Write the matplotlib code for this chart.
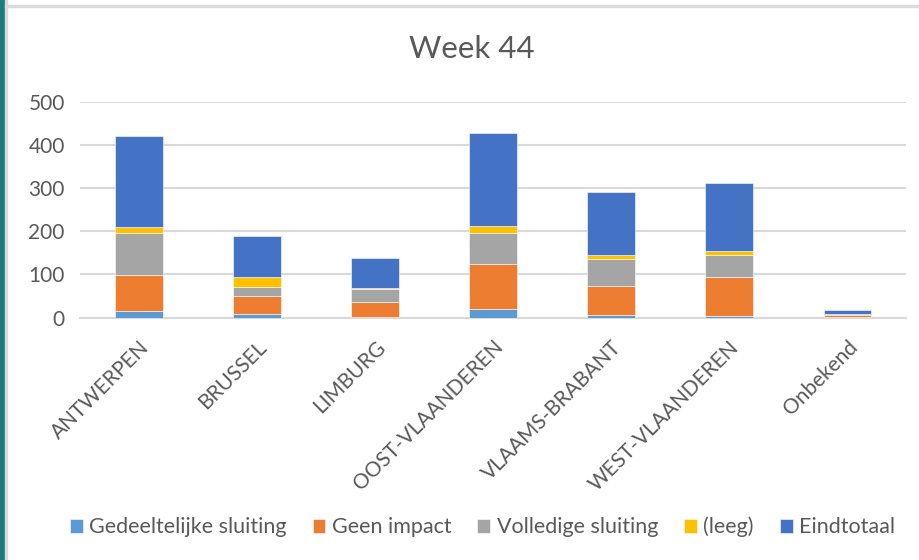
import numpy as np
import matplotlib.pyplot as plt
from matplotlib.patches import Rectangle

# provinces and counts per status (week 44)
provincies = ["ANTWERPEN", "BRUSSEL", "LIMBURG", "OOST-VLAANDEREN",
              "VLAAMS-BRABANT", "WEST-VLAANDEREN", "Onbekend"]
gedeeltelijk = [14, 9, 1, 19, 5, 4, 1]
geen_impact = [84, 40, 35, 105, 68, 89, 4]
volledig = [97, 21, 29, 72, 62, 51, 4]
leeg = [15, 24, 3, 17, 9, 11, 0]
eindtotaal = [210, 95, 70, 215, 148, 157, 9]

reeksen = ["Gedeeltelijke sluiting", "Geen impact", "Volledige sluiting", "(leeg)", "Eindtotaal"]
kleuren = ["#5B9BD5", "#ED7D31", "#A5A5A5", "#FFC000", "#4472C4"]

plt.rcParams['font.family'] = ['Lato', 'DejaVu Sans']
tekstkleur = "#595959"

fig = plt.figure(figsize=(9.19, 5.6), dpi=100)
ax = fig.add_axes([0.087, 0.433, 0.899, 0.385])

x = np.arange(len(provincies))
onder = np.zeros(len(provincies))
for naam, waarden, kleur in zip(reeksen, [gedeeltelijk, geen_impact, volledig, leeg, eindtotaal], kleuren):
    ax.bar(x, waarden, 0.4, bottom=onder, color=kleur, label=naam,
           edgecolor="white", linewidth=0.4, zorder=3)
    onder = onder + np.array(waarden)

ax.set_xlim(-0.5, len(provincies) - 0.5)
ax.set_ylim(0, 500)
ax.set_yticks(range(0, 501, 100))
ax.grid(axis="y", color="#D9D9D9", linewidth=1.5, zorder=0)
for s in ["top", "right", "left"]:
    ax.spines[s].set_visible(False)
ax.spines["bottom"].set_color("#D9D9D9")
ax.spines["bottom"].set_linewidth(1.5)
ax.tick_params(length=0, labelsize=15, labelcolor=tekstkleur)
ax.tick_params(axis="y", pad=11)
ax.set_xticks(x)
ax.set_xticklabels(provincies, rotation=45, ha="right", rotation_mode="anchor")
ax.tick_params(axis="x", pad=14)

fig.text(0.513, 0.912, "Week 44", ha="center", va="center", fontsize=22.5, color=tekstkleur)

fig.legend(loc="center", bbox_to_anchor=(0.525, 0.059), ncol=5, frameon=False,
           fontsize=15.5, labelcolor=tekstkleur, handlelength=0.6, handleheight=0.6,
           handletextpad=0.3, columnspacing=1.2)

# window border on the left and top
fig.patches.append(Rectangle((0, 0), 4 / 919, 1, transform=fig.transFigure, color="#1E7B7B"))
fig.patches.append(Rectangle((5 / 919, 0), 2 / 919, 1, transform=fig.transFigure, color="#D9D9D9"))
fig.patches.append(Rectangle((5 / 919, 1 - 7 / 560), 1, 2 / 560, transform=fig.transFigure, color="#D9D9D9"))

fig.savefig("out.png", dpi=100)
